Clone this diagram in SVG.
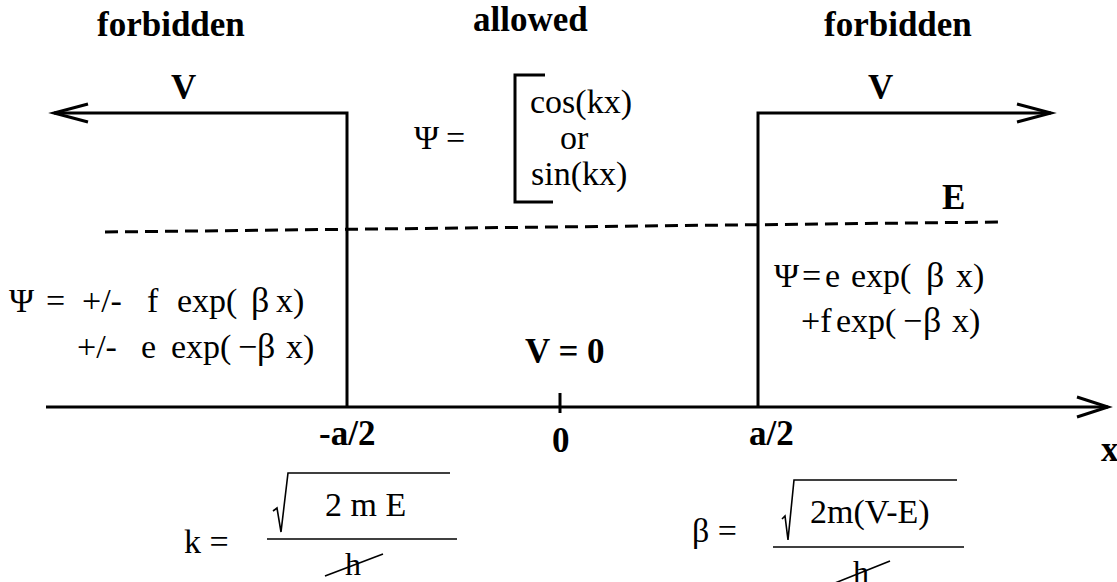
<svg xmlns="http://www.w3.org/2000/svg" width="1117" height="582" viewBox="0 0 1117 582">
<style>
  .ln{stroke:#000;stroke-width:3;fill:none;stroke-linecap:butt;stroke-linejoin:miter}
  .thin{stroke:#000;stroke-width:1.6;fill:none}
  .b{font-family:"Liberation Serif","DejaVu Serif",serif;font-weight:bold;font-size:35px;fill:#000}
  .r{font-family:"Liberation Serif","DejaVu Serif",serif;font-weight:normal;font-size:34px;fill:#000}
  .g{font-size:36px}
</style>
<rect width="1117" height="582" fill="#fff"/>
<g id="connectors">
  <path id="left-wall" class="ln" d="M347,407 V113 H54"/>
  <path id="left-arrowhead" class="ln" d="M88,104 L54,113 L88,122"/>
  <path id="right-wall" class="ln" d="M758,407 V113 H1051"/>
  <path id="right-arrowhead" class="ln" d="M1017,104 L1051,113 L1017,122"/>
  <path id="x-axis" class="ln" d="M46,407 H1108"/>
  <path id="x-arrowhead" class="ln" d="M1077,397 L1108,407 L1077,417"/>
  <path id="tick" class="ln" d="M560,393 V413"/>
  <path id="energy-level" class="ln" stroke-dasharray="13,7" d="M105,232 L1000,222"/>
</g>
<g id="labels">
  <text class="b" x="97" y="36">forbidden</text>
  <text class="b" x="473" y="31">allowed</text>
  <text class="b" x="824" y="36">forbidden</text>
  <text class="b" x="171" y="99">V</text>
  <text class="b" x="868" y="99">V</text>
  <text class="b" x="942" y="209">E</text>
  <text class="b" x="525" y="363">V = 0</text>
  <text class="b" x="319" y="445">-a/2</text>
  <text class="b" x="552" y="452">0</text>
  <text class="b" x="749" y="445">a/2</text>
  <text class="b" x="1101" y="461">x</text>
</g>
<g id="psi-allowed">
  <text class="r" y="149"><tspan x="414">Ψ</tspan><tspan x="446">=</tspan></text>
  <path class="ln" d="M545,75 H515 V202 H553"/>
  <text class="r" x="530" y="113">cos(kx)</text>
  <text class="r" x="560" y="149">or</text>
  <text class="r" x="531" y="185">sin(kx)</text>
</g>
<g id="psi-left">
  <text class="r" y="312"><tspan x="9">Ψ</tspan><tspan x="46">=</tspan><tspan x="82">+/-</tspan><tspan x="147">f</tspan><tspan x="177">exp(</tspan><tspan class="g" x="251">β</tspan><tspan x="276">x)</tspan></text>
  <text class="r" y="358"><tspan x="77">+/-</tspan><tspan x="141">e</tspan><tspan x="171">exp(</tspan><tspan x="238">−</tspan><tspan class="g" x="257">β</tspan><tspan x="286">x)</tspan></text>
</g>
<g id="psi-right">
  <text class="r" y="287"><tspan x="774">Ψ</tspan><tspan x="802">=</tspan><tspan x="825">e</tspan><tspan x="851">exp(</tspan><tspan class="g" x="926">β</tspan><tspan x="956">x)</tspan></text>
  <text class="r" y="332"><tspan x="801">+f</tspan><tspan x="836">exp(</tspan><tspan x="903">−</tspan><tspan class="g" x="923">β</tspan><tspan x="952">x)</tspan></text>
</g>
<g id="k-formula">
  <text class="r" x="184" y="553">k =</text>
  <path class="thin" d="M273,511 L277,508 L281,532 L288,473 H450"/>
  <text class="r" x="325" y="516">2 m E</text>
  <path class="thin" d="M267,539 H457"/>
  <text class="r" style="font-size:32px" x="345" y="575">h</text>
  <path class="thin" d="M325,576 L383,554"/>
</g>
<g id="beta-formula">
  <text class="r" x="692" y="542">β =</text>
  <path class="thin" d="M782,519 L785,516 L788,540 L794,480 H957"/>
  <text class="r" x="810" y="523">2m(V-E)</text>
  <path class="thin" d="M773,547 H964"/>
  <text class="r" style="font-size:32px" x="853" y="583">h</text>
  <path class="thin" d="M835,583 L890,561"/>
</g>
</svg>
